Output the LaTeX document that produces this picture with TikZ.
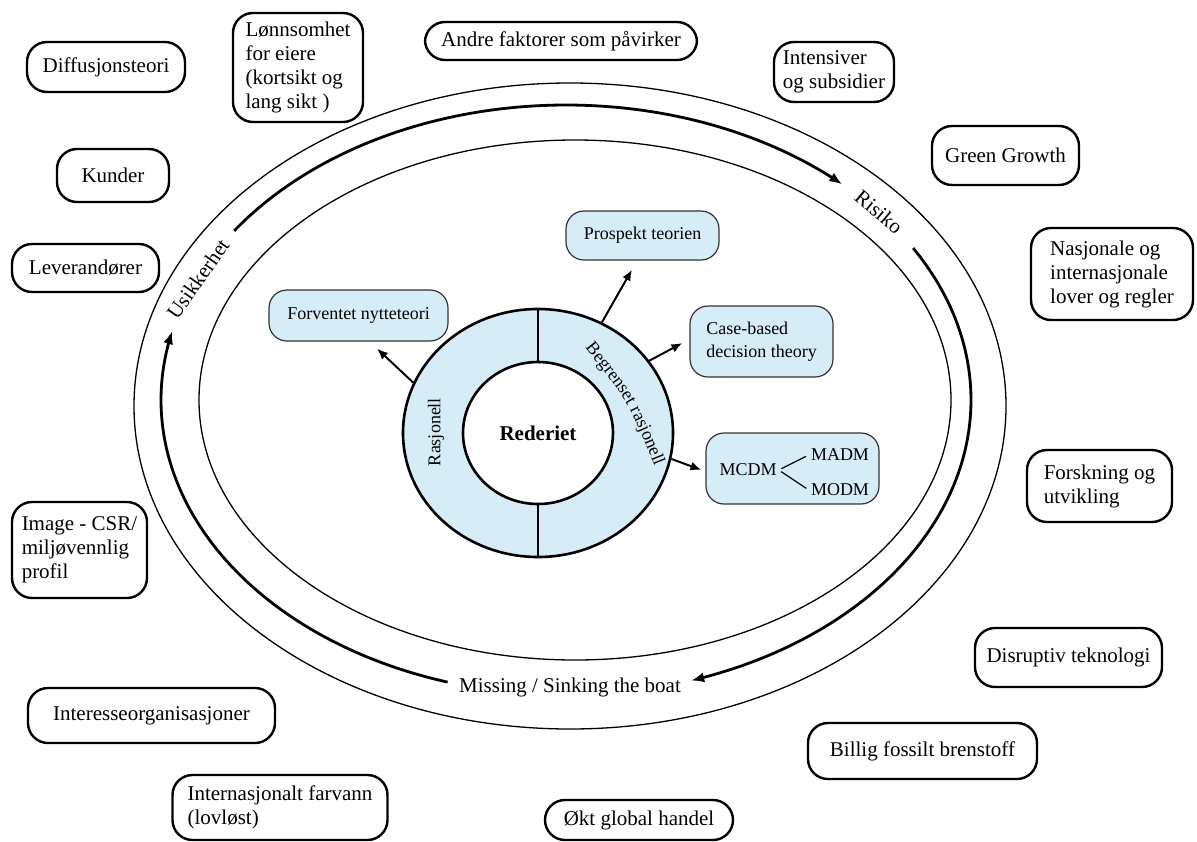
\documentclass[tikz,border=0pt]{standalone}
\usepackage{fontspec}
\setmainfont{Liberation Serif}
\usetikzlibrary{arrows.meta, positioning, shapes.geometric, calc, decorations.text}
\definecolor{theoryBlue}{RGB}{214,237,248}

\begin{document}
\begin{tikzpicture}[
  x=1pt, y=-1pt,
  every node/.style={align=center},
  outerbox/.style={draw, line width=2.4pt, rounded corners=20pt, inner sep=4pt, font=\fontsize{21}{24}\selectfont},
  theory/.style={draw=black!80, line width=1.2pt, fill=theoryBlue, rounded corners=18pt, font=\fontsize{18}{23}\selectfont},
  plain/.style={inner sep=2pt, font=\fontsize{18}{23}\selectfont},
  size/.style 2 args={minimum width=#1, minimum height=#2},
  ellipseline/.style={line width=1.3pt},
  flow/.style={line width=2.8pt, -{Latex[length=13pt, width=10pt]}},
  arrow/.style={line width=2pt, -{Latex[length=11pt, width=9pt]}},
  arclabel/.style={font=\fontsize{21}{24}\selectfont},
]
\useasboundingbox (0,0) rectangle (1197,841);

% Outer and inner ellipse
\draw[ellipseline] (570,406) ellipse [x radius=436, y radius=323];
\draw[ellipseline] (575,400) ellipse [x radius=376, y radius=260];

% Thick arrows between the ellipses
\draw[flow] plot[variable=\t, domain=-145:-47, samples=60, smooth] ({566+405*cos(\t)}, {400+295*sin(\t)});
\draw[flow] plot[variable=\t, domain=-31:72, samples=60, smooth] ({566+405*cos(\t)}, {400+295*sin(\t)});
\draw[flow] plot[variable=\t, domain=107:193.5, samples=60, smooth] ({566+405*cos(\t)}, {400+295*sin(\t)});

% Labels on the ring of arrows
\node[arclabel, rotate=-40] (risk) at (879,212) {Risiko};
\node[arclabel, rotate=55] (usik) at (198,279) {Usikkerhet};
\node[arclabel] (miss) at (570,687) {Missing / Sinking the boat};

% Factors outside (clockwise from top left)
\node[outerbox, size={158}{50}] (diff) at (106,67) {Diffusjonsteori};
\node[outerbox, size={130}{109}, align=left] (lonn) at (298,67.5) {Lønnsomhet\\for eiere\\(kortsikt og\\lang sikt )};
\node[outerbox, size={272}{38}] (andre) at (561,41) {Andre faktorer som påvirker};
\node[outerbox, size={120}{60}, align=left] (insent) at (834,72) {Intensiver\\og subsidier};
\node[outerbox, size={147}{59}] (green) at (1005.5,155.5) {Green Growth};
\node[outerbox, size={162}{92}, align=left] (lover) at (1112,274) {Nasjonale og\\internasjonale\\lover og regler};
\node[outerbox, size={145}{72}, align=left] (forsk) at (1099.5,486) {Forskning og\\utvikling};
\node[outerbox, size={187}{59}] (disr) at (1068.5,657.5) {Disruptiv teknologi};
\node[outerbox, size={229}{56}] (fossil) at (922.5,751) {Billig fossilt brenstoff};
\node[outerbox, size={188}{40}] (handel) at (639,820) {Økt global handel};
\node[outerbox, size={215}{65}, align=left] (farv) at (280,807.5) {Internasjonalt farvann\\(lovløst)};
\node[outerbox, size={247}{55}] (inter) at (151.5,715.5) {Interesseorganisasjoner};
\node[outerbox, size={135}{96}, align=left] (image) at (79.5,550) {Image - CSR/\\miljøvennlig\\profil};
\node[outerbox, size={147}{48}] (lev) at (85.5,268) {Leverandører};
\node[outerbox, size={112}{53}] (kund) at (113,175.5) {Kunder};

% Decision theories
\node[theory, size={153}{49}] (prosp) at (642.5,235.5) {Prospekt teorien};
\node[theory, size={179}{51}] (fnt) at (358.5,315.5) {Forventet nytteteori};
\node[theory, size={143}{71}, align=left] (cbdt) at (761.5,341.5) {Case-based\\decision theory};
\node[theory, size={173}{71}] (mcdm) at (792.5,468.5) {};
\node[plain] (mc) at (748,470) {MCDM};
\node[plain] (ma) at (840,455) {MADM};
\node[plain] (mo) at (840,490) {MODM};
\draw[line width=1.2pt, shorten <=3pt, shorten >=3pt] (mc.east) -- (ma.west);
\draw[line width=1.2pt, shorten <=3pt, shorten >=3pt] (mc.east) -- (mo.west);

% Rederiet with the two kinds of rationality
\node[draw, ellipse, line width=2.6pt, fill=theoryBlue, size={270}{248}] (ring) at (538,433) {};
\node[draw, ellipse, line width=2.6pt, fill=white, size={150}{142}, font=\bfseries\fontsize{21}{24}\selectfont] (hub) at (538,433) {Rederiet};
\draw[line width=2pt] (ring.north) -- (hub.north);
\draw[line width=2pt] (ring.south) -- (hub.south);
\node[plain, rotate=90] (rasj) at (436,432) {Rasjonell};
\path[decorate, decoration={text along path, text align=center, text={|\fontsize{18}{23}\selectfont|Begrenset rasjonell}}] (578,339) .. controls (629,402) .. (659,477);

% Arrows from the ring to the theories
\coordinate (fnt tip) at ($(fnt.south)+(18.5,7)$);
\coordinate (prosp tip) at ($(prosp.south)+(-10.5,9)$);
\coordinate (cbdt tip) at ($(cbdt.west)+(-7,1.5)$);
\coordinate (mcdm tip) at ($(mcdm.west)+(-4,1.5)$);
\draw[arrow] (ring.158) -- (fnt tip);
\draw[arrow] (ring.60) -- (prosp tip);
\draw[arrow] (ring.33) -- (cbdt tip);
\draw[arrow] (ring.-11) -- (mcdm tip);

\end{tikzpicture}
\end{document}
